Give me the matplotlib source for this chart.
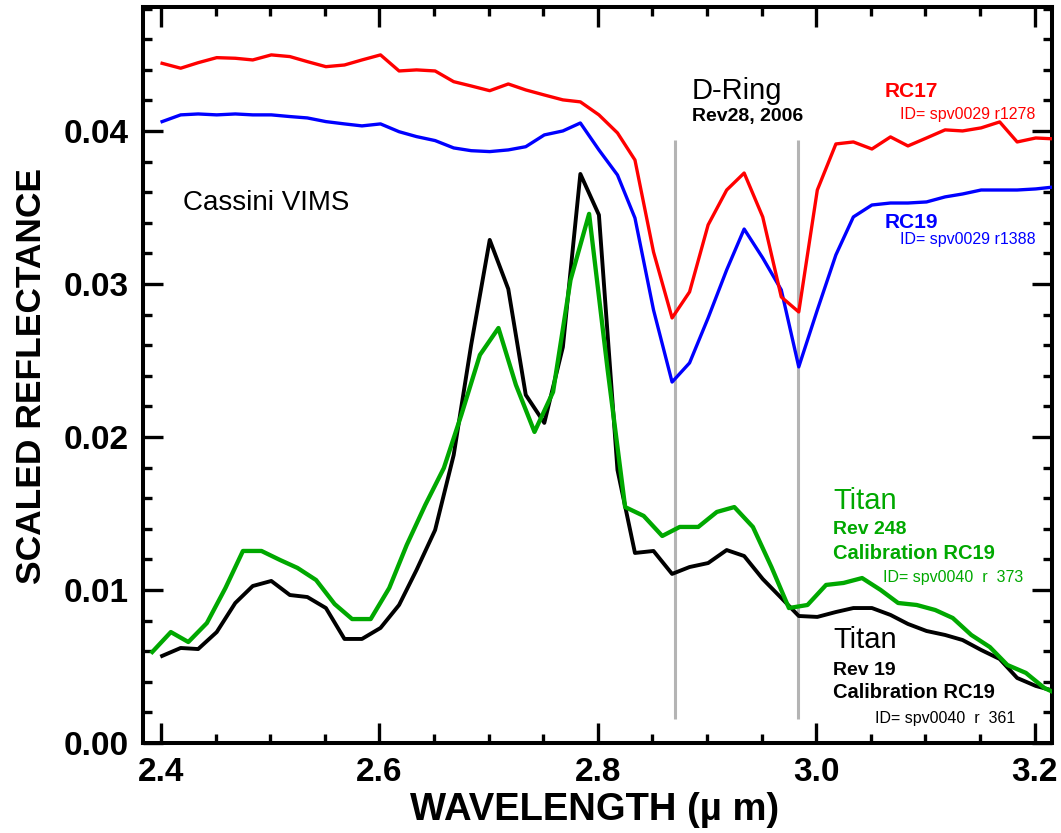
import matplotlib
matplotlib.use('Agg')
import matplotlib.pyplot as plt
from matplotlib.ticker import MultipleLocator, FixedLocator, FormatStrFormatter

plt.rcParams['font.family'] = ['Liberation Sans', 'DejaVu Sans']

# ---------------- data ----------------
# wavelength grid (um) for the D-ring spectra and Titan Rev 19
wl_ring = [2.401, 2.418, 2.434, 2.451, 2.468, 2.484, 2.501, 2.518, 2.534, 2.551,
           2.568, 2.584, 2.601, 2.618, 2.634, 2.651, 2.668, 2.684, 2.701, 2.718,
           2.734, 2.751, 2.768, 2.784, 2.801, 2.818, 2.834, 2.851, 2.868, 2.884,
           2.901, 2.918, 2.934, 2.951, 2.968, 2.984, 3.001, 3.018, 3.034, 3.051,
           3.068, 3.084, 3.101, 3.118, 3.134, 3.151, 3.168, 3.184, 3.201, 3.218]

# wavelength grid (um) for Titan Rev 248 (shifted calibration)
wl_t248 = [2.392, 2.409, 2.425, 2.442, 2.459, 2.475, 2.492, 2.509, 2.525, 2.542,
           2.559, 2.575, 2.592, 2.609, 2.625, 2.642, 2.659, 2.675, 2.692, 2.709,
           2.725, 2.742, 2.759, 2.775, 2.792, 2.809, 2.825, 2.842, 2.859, 2.875,
           2.892, 2.909, 2.925, 2.942, 2.959, 2.975, 2.992, 3.009, 3.025, 3.042,
           3.059, 3.075, 3.092, 3.109, 3.125, 3.142, 3.159, 3.175, 3.192, 3.209,
           3.225]

rc17 = [0.04442, 0.04410, 0.04446, 0.04479, 0.04475, 0.04464, 0.04497, 0.04486, 0.04453, 0.04420,
        0.04431, 0.04464, 0.04497, 0.04392, 0.04399, 0.04392, 0.04322, 0.04294, 0.04263, 0.04307,
        0.04268, 0.04235, 0.04203, 0.04190, 0.04105, 0.03987, 0.03810, 0.03209, 0.02778, 0.02948,
        0.03386, 0.03614, 0.03725, 0.03438, 0.02915, 0.02817, 0.03614, 0.03915, 0.03928, 0.03882,
        0.03961, 0.03902, 0.03954, 0.04007, 0.04000, 0.04020, 0.04059, 0.03928, 0.03954, 0.03948]

rc19 = [0.04061, 0.04105, 0.04111, 0.04105, 0.04111, 0.04105, 0.04105, 0.04094, 0.04085, 0.04061,
        0.04046, 0.04033, 0.04046, 0.03995, 0.03963, 0.03937, 0.03889, 0.03871, 0.03865, 0.03876,
        0.03897, 0.03974, 0.04000, 0.04052, 0.03876, 0.03712, 0.03431, 0.02830, 0.02359, 0.02484,
        0.02778, 0.03092, 0.03359, 0.03170, 0.02961, 0.02458, 0.02830, 0.03190, 0.03438, 0.03516,
        0.03529, 0.03529, 0.03536, 0.03569, 0.03588, 0.03614, 0.03614, 0.03614, 0.03621, 0.03634]

titan_rev19 = [0.00569, 0.00621, 0.00614, 0.00725, 0.00915, 0.01026, 0.01059, 0.00967, 0.00954, 0.00882,
               0.00680, 0.00680, 0.00752, 0.00902, 0.01131, 0.01392, 0.01882, 0.02601, 0.03288, 0.02967,
               0.02275, 0.02092, 0.02588, 0.03719, 0.03451, 0.01784, 0.01242, 0.01255, 0.01105, 0.01150,
               0.01176, 0.01261, 0.01222, 0.01072, 0.00948, 0.00830, 0.00824, 0.00856, 0.00882, 0.00882,
               0.00837, 0.00778, 0.00732, 0.00706, 0.00673, 0.00608, 0.00549, 0.00425, 0.00373, 0.00340]

titan_rev248 = [0.00595, 0.00725, 0.00660, 0.00784, 0.01013, 0.01255, 0.01255, 0.01196, 0.01144, 0.01065,
                0.00908, 0.00810, 0.00810, 0.01013, 0.01294, 0.01556, 0.01797, 0.02144, 0.02536, 0.02712,
                0.02340, 0.02033, 0.02294, 0.03026, 0.03458, 0.02438, 0.01542, 0.01484, 0.01353, 0.01412,
                0.01412, 0.01510, 0.01542, 0.01412, 0.01150, 0.00882, 0.00902, 0.01033, 0.01046, 0.01078,
                0.01000, 0.00915, 0.00902, 0.00869, 0.00817, 0.00706, 0.00627, 0.00510, 0.00458, 0.00359,
                0.00307]

dring_band_centers = [2.8707, 2.9833]
band_line_span = [0.0016, 0.0394]

x_major_ticks = [2.4, 2.6, 2.8, 3.0, 3.2]
x_tick_labels = ['2.4', '2.6', '2.8', '3.0', '3.2']
y_major_ticks = [0.00, 0.01, 0.02, 0.03, 0.04]

# ---------------- figure ----------------
W, H = 1061, 833
fig = plt.figure(figsize=(W / 100, H / 100), dpi=100)
L, R, T, B = 143, 1052, 7, 743
ax = fig.add_axes([L / W, (H - B) / H, (R - L) / W, (B - T) / H])

RED = '#ff0000'
BLUE = '#0000ff'
GREEN = '#00a800'

ax.vlines(dring_band_centers, band_line_span[0], band_line_span[1],
          colors='#b4b4b4', linewidth=2.2, zorder=1)
ax.plot(wl_ring, titan_rev19, color='black', linewidth=2.8, zorder=3)
ax.plot(wl_t248, titan_rev248, color=GREEN, linewidth=3.1, zorder=4)
ax.plot(wl_ring, rc19, color=BLUE, linewidth=2.4, zorder=5)
ax.plot(wl_ring, rc17, color=RED, linewidth=2.4, zorder=6)

ax.set_xlim(2.3835, 3.2159)
ax.set_ylim(0.0, 0.04810)

ax.xaxis.set_major_locator(FixedLocator(x_major_ticks))
ax.set_xticklabels(x_tick_labels)
ax.xaxis.set_minor_locator(MultipleLocator(0.05))
ax.yaxis.set_major_locator(FixedLocator(y_major_ticks))
ax.yaxis.set_major_formatter(FormatStrFormatter('%.2f'))
ax.yaxis.set_minor_locator(MultipleLocator(0.002))

for s in ax.spines.values():
    s.set_linewidth(2.9)

ax.tick_params(which='both', direction='in', top=True, right=True, width=2.4, color='black')
ax.tick_params(which='major', length=14.5)
ax.tick_params(which='minor', length=6.5)
ax.tick_params(axis='y', which='major', pad=10, labelsize=24)
ax.tick_params(axis='x', which='major', pad=10, labelsize=24)
for lab in ax.get_xticklabels() + ax.get_yticklabels():
    lab.set_fontweight('bold')

ax.set_xlabel('WAVELENGTH (\u00b5 m)', fontsize=27.5, fontweight='bold')
ax.set_ylabel('SCALED REFLECTANCE', fontsize=25.5, fontweight='bold')
ax.xaxis.set_label_coords(0.497, -0.066)
ax.yaxis.set_label_coords(-0.105, 0.4986)

# ---------------- annotations ----------------
def px2data(px, py):
    return 2.4 + (px - 161) / 1092.0, (743 - py) / 15300.0

def label(px, py, s, size, color='black', weight='normal'):
    x, y = px2data(px, py)
    ax.text(x, y, s, fontsize=size, color=color, fontweight=weight,
            ha='left', va='baseline', zorder=10)

label(183, 210, 'Cassini VIMS', 20)
label(692, 99, 'D-Ring', 21)
label(692, 121, 'Rev28, 2006', 14, weight='bold')
label(885, 97, 'RC17', 15, RED, 'bold')
label(900, 119, 'ID= spv0029 r1278', 11.5, RED)
label(885, 228, 'RC19', 15, BLUE, 'bold')
label(900, 244, 'ID= spv0029 r1388', 11.5, BLUE)
label(833, 509, 'Titan', 21, GREEN)
label(833, 534, 'Rev 248', 14, GREEN, 'bold')
label(833, 559, 'Calibration RC19', 14.5, GREEN, 'bold')
label(883, 582, 'ID= spv0040  r  373', 11.5, GREEN)
label(833, 648, 'Titan', 21)
label(833, 675, 'Rev 19', 14, weight='bold')
label(833, 698, 'Calibration RC19', 14.5, weight='bold')
label(875, 723, 'ID= spv0040  r  361', 11.5)

fig.savefig('out.png', dpi=100)
